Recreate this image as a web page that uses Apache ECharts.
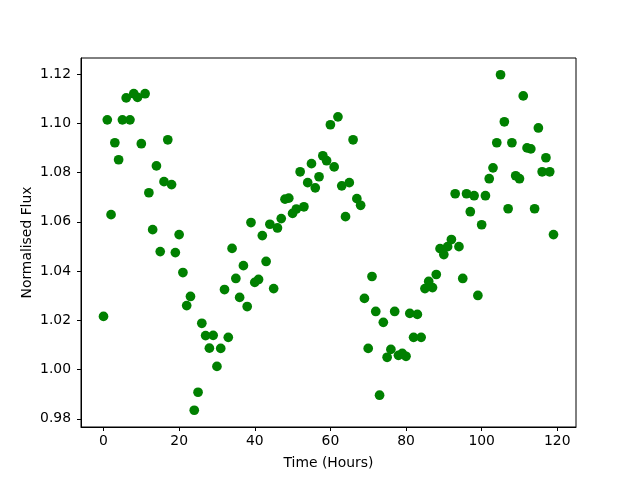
<!DOCTYPE html>
<html>
<head>
<meta charset="utf-8">
<script src="https://cdn.jsdelivr.net/npm/echarts@6/dist/echarts.min.js"></script>
<style>
  html, body { margin: 0; padding: 0; background: #fff; }
  #chart { width: 640px; height: 480px; }
</style>
</head>
<body>
<div id="chart"></div>
<script>
// hours since start of observation
const hours = [
  0, 1, 2, 3, 4, 5, 6, 7, 8, 9, 10, 11, 12, 13, 14, 15, 16, 17, 18, 19,
  20, 21, 22, 23, 24, 25, 26, 27, 28, 29, 30, 31, 32, 33, 34, 35, 36, 37, 38, 39,
  40, 41, 42, 43, 44, 45, 46, 47, 48, 49, 50, 51, 52, 53, 54, 55, 56, 57, 58, 59,
  60, 61, 62, 63, 64, 65, 66, 67, 68, 69, 70, 71, 72, 73, 74, 75, 76, 77, 78, 79,
  80, 81, 82, 83, 84, 85, 86, 87, 88, 89, 90, 91, 92, 93, 94, 95, 96, 97, 98, 99,
  100, 101, 102, 103, 104, 105, 106, 107, 108, 109, 110, 111, 112, 113, 114, 115, 116, 117, 118, 119
];

// normalised flux
const flux = [
  1.0216, 1.1014, 1.0629, 1.0921, 1.0852, 1.1014, 1.1103, 1.1014, 1.1120, 1.1105,
  1.0917, 1.1120, 1.0718, 1.0568, 1.0827, 1.0479, 1.0763, 1.0933, 1.0751, 1.0475,
  1.0548, 1.0394, 1.0260, 1.0297, 0.9835, 0.9908, 1.0188, 1.0138, 1.0087, 1.0139,
  1.0013, 1.0086, 1.0325, 1.0131, 1.0492, 1.0370, 1.0293, 1.0422, 1.0256, 1.0597,
  1.0354, 1.0366, 1.0544, 1.0439, 1.0590, 1.0329, 1.0575, 1.0613, 1.0692, 1.0696,
  1.0634, 1.0652, 1.0803, 1.0661, 1.0759, 1.0836, 1.0738, 1.0783, 1.0868, 1.0848,
  1.0994, 1.0823, 1.1026, 1.0746, 1.0621, 1.0759, 1.0933, 1.0694, 1.0667, 1.0289,
  1.0086, 1.0378, 1.0236, 0.9896, 1.0192, 1.0050, 1.0082, 1.0236, 1.0058, 1.0066,
  1.0054, 1.0228, 1.0131, 1.0224, 1.0131, 1.0329, 1.0358, 1.0333, 1.0386, 1.0491,
  1.0467, 1.0499, 1.0528, 1.0714, 1.0499, 1.0370, 1.0714, 1.0641, 1.0706, 1.0301,
  1.0588, 1.0706, 1.0775, 1.0819, 1.0921, 1.1197, 1.1006, 1.0653, 1.0921, 1.0787,
  1.0775, 1.1111, 1.0900, 1.0896, 1.0653, 1.0981, 1.0803, 1.0860, 1.0803, 1.0548
];

const xTicks = [0, 20, 40, 60, 80, 100, 120];
const yTicks = [0.98, 1.00, 1.02, 1.04, 1.06, 1.08, 1.10, 1.12];

const chart = echarts.init(document.getElementById('chart'), null, { renderer: 'canvas' });

const font = 'DejaVu Sans';
const fontSize = 13.9;

const option = {
  backgroundColor: '#fff',
  animation: false,
  grid: {
    left: 81,
    right: 64,
    top: 58,
    bottom: 53,
    containLabel: false,
    outerBoundsMode: 'none',
    show: true,
    borderColor: '#000',
    borderWidth: 1,
    backgroundColor: 'transparent'
  },
  xAxis: {
    type: 'value',
    min: -5.95,
    max: 124.95,
    name: 'Time (Hours)',
    nameLocation: 'middle',
    nameGap: 29,
    nameMoveOverlap: false,
    nameTextStyle: { fontFamily: font, fontSize: fontSize, color: '#000' },
    axisLine: { show: true, onZero: false, lineStyle: { color: '#000', width: 1 } },
    axisTick: { show: true, length: 4, customValues: xTicks, lineStyle: { color: '#000' } },
    axisLabel: {
      customValues: xTicks,
      margin: 7,
      fontFamily: font,
      fontSize: fontSize,
      color: '#000'
    },
    splitLine: { show: false }
  },
  yAxis: {
    type: 'value',
    min: 0.9767,
    max: 1.1265,
    name: 'Normalised Flux',
    nameLocation: 'middle',
    nameGap: 47,
    nameMoveOverlap: false,
    nameTextStyle: { fontFamily: font, fontSize: fontSize, color: '#000' },
    axisLine: { show: true, onZero: false, lineStyle: { color: '#000', width: 1 } },
    axisTick: { show: true, length: 4, customValues: yTicks, lineStyle: { color: '#000' } },
    axisLabel: {
      customValues: yTicks,
      margin: 10,
      fontFamily: font,
      fontSize: fontSize,
      color: '#000',
      formatter: v => v.toFixed(2)
    },
    splitLine: { show: false }
  },
  series: [
    {
      type: 'scatter',
      data: hours.map((h, i) => [h, flux[i]]),
      symbol: 'circle',
      symbolSize: 9.7,
      itemStyle: { color: '#008000', opacity: 1 }
    }
  ]
};

chart.setOption(option);
</script>
</body>
</html>
